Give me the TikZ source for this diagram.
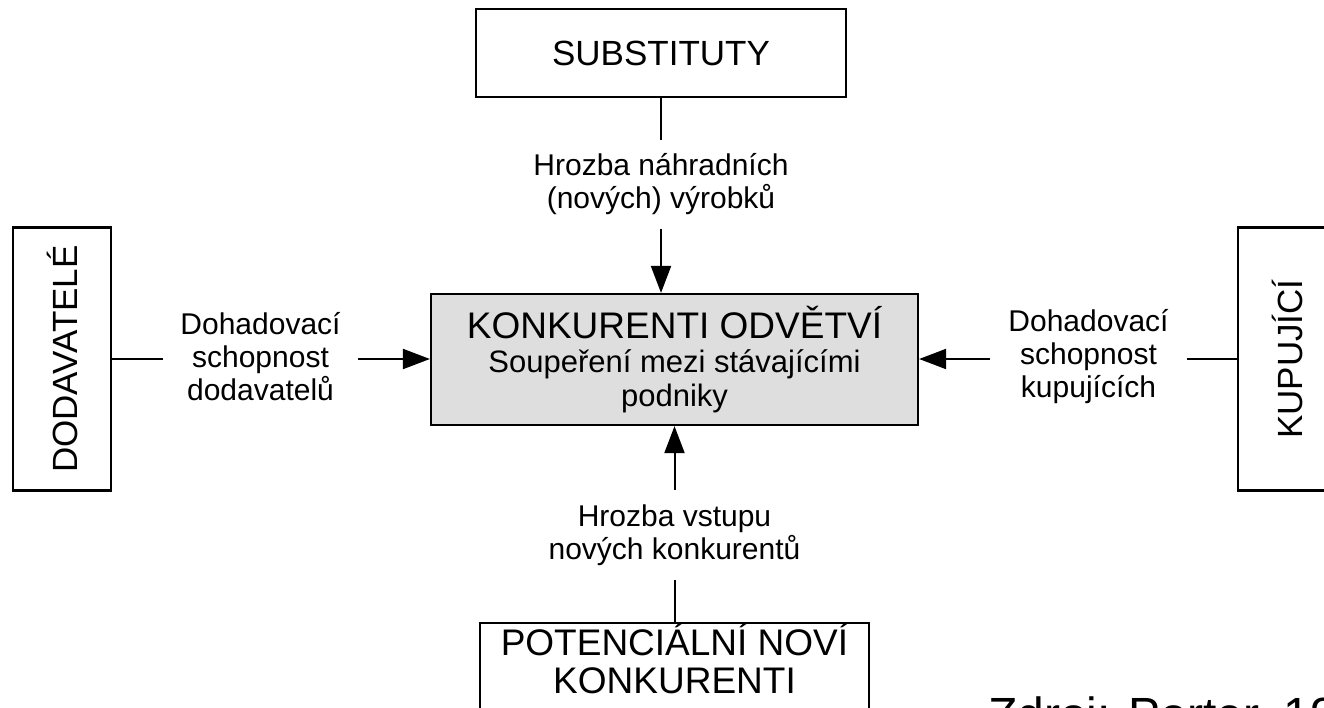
\documentclass[tikz,border=0pt]{standalone}
\usepackage{fontspec}
\setmainfont{Liberation Sans}
\usetikzlibrary{arrows.meta,positioning}

\newcommand{\subfont}{\fontsize{31}{34}\selectfont}

\begin{document}
\begin{tikzpicture}[x=1pt,y=-1pt,
    box/.style={draw,line width=2.2pt,inner sep=0pt,align=center,font=\fontsize{35}{38}\selectfont},
    lab/.style={inner sep=0pt,align=center,font=\fontsize{30}{33}\selectfont},
    conn/.style={line width=2pt},
    arr/.style={line width=2pt,-{Triangle[length=27pt,width=20pt]}}]
    \useasboundingbox (0,0) rectangle (1324,708);

    \node[box,fill=black!13,minimum width=487pt,minimum height=131pt,font=\fontsize{37}{34}\selectfont] (konk) at (674.5,359.5)
        {KONKURENTI ODVĚTVÍ\\\subfont Soupeření mezi stávajícími\\\subfont podniky};

    \node[box,minimum width=370pt,minimum height=88pt] (subst) at (661,53) {SUBSTITUTY};
    \node[box,rotate=90,minimum width=263pt,minimum height=98pt] (dod) at (62,359) {DODAVATELÉ};
    \node[box,rotate=90,minimum width=263pt,minimum height=98pt] (kup) at (1287,359) {KUPUJÍCÍ};
    \node[box,anchor=north,minimum width=389pt,minimum height=120pt] (pot) at (674.5,622) {};
    \node[box,draw=none,font=\fontsize{37}{38}\selectfont] (pottxt) at (674.5,659) {POTENCIÁLNÍ NOVÍ\\KONKURENTI};

    \node[lab,minimum height=89pt] (lab_s) at (661,184.5) {Hrozba náhradních\\(nových) výrobků};
    \node[lab,minimum height=90pt] (lab_p) at (674.5,535) {Hrozba vstupu\\nových konkurentů};
    \node[lab,minimum width=195pt] (lab_d) at (260.5,357) {Dohadovací\\schopnost\\dodavatelů};
    \node[lab,minimum width=197pt] (lab_k) at (1088.5,357) {Dohadovací\\schopnost\\kupujících};

    % connectors
    \draw[conn] (subst) -- (lab_s);
    \draw[arr] (lab_s) -- (lab_s |- konk.north);
    \draw[conn] (pot) -- (lab_p);
    \draw[arr] (lab_p) -- (konk);
    \draw[conn] (dod) -- (dod -| lab_d.west);
    \draw[arr] (lab_d.east |- dod) -- (konk.west |- dod);
    \draw[conn] (kup) -- (kup -| lab_k.east);
    \draw[arr] (lab_k.west |- kup) -- (konk.east |- kup);

    \node[anchor=base west,inner sep=0pt,font=\fontsize{48}{56}\selectfont] (zdroj) at (988,731) {Zdroj: Porter, 19};
\end{tikzpicture}
\end{document}
